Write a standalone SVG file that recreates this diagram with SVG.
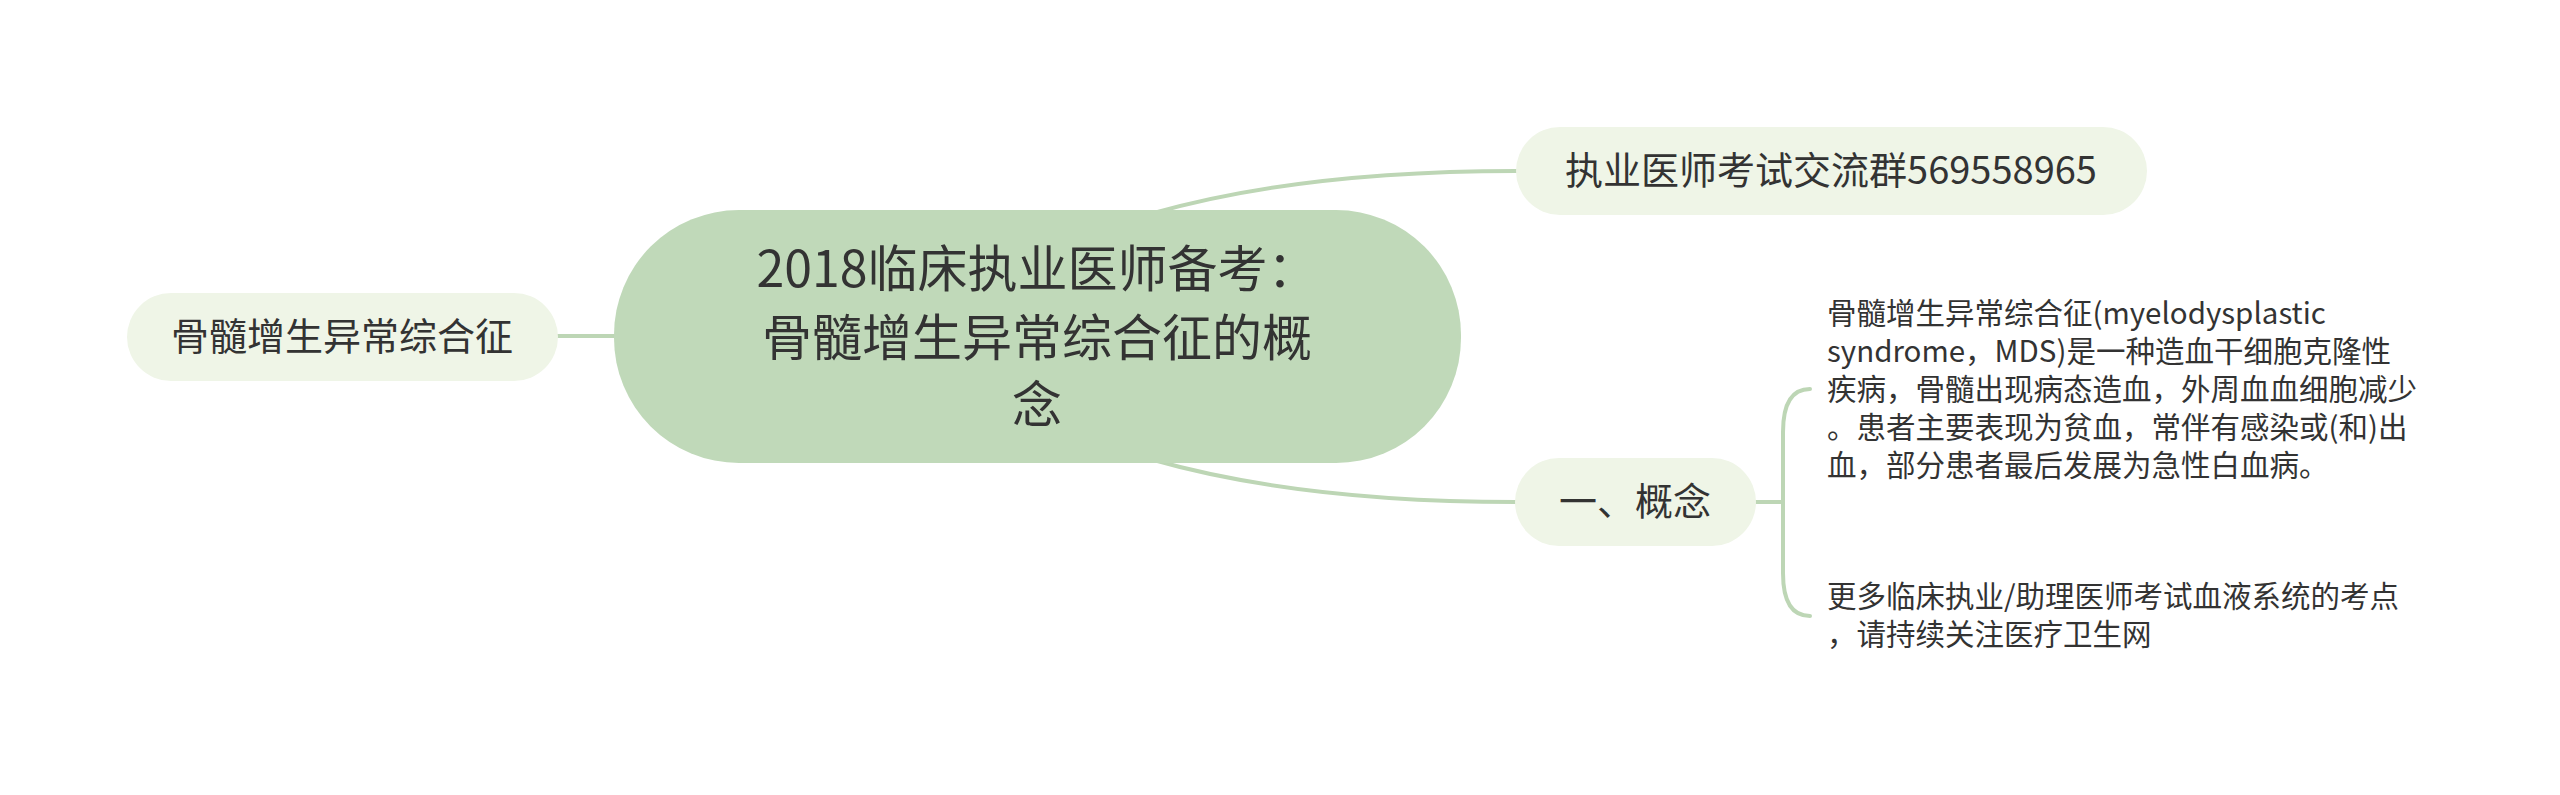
<svg xmlns="http://www.w3.org/2000/svg" width="2560" height="795" viewBox="0 0 2560 795">
<style>
.t{font-family:"Noto Sans CJK SC","Microsoft YaHei","Noto Sans",sans-serif;fill:#333333}
.c{stroke:#bdd6b5;stroke-width:4;fill:none;stroke-linecap:round}
.sub{fill:#eff5e7}
</style>
<rect width="2560" height="795" fill="#ffffff"/>
<g id="connectors">
<path class="c" d="M1150,214 Q1300,171 1516,171"/>
<path class="c" d="M1150,459 Q1300,502 1516,502"/>
<path class="c" d="M557,336 L616,336"/>
<path class="c" d="M1756,502 L1783,502"/>
<path class="c" d="M1810,389 Q1783,389 1783,432 L1783,573 Q1783,616 1810,616"/>
</g>
<g id="center">
<rect x="614" y="210" width="847" height="253" rx="125" ry="125" fill="#c0d9b9"/>
<text class="t" font-size="50" text-anchor="middle"><tspan x="1037" y="287">2018临床执业医师备考：</tspan><tspan x="1037" y="356">骨髓增生异常综合征的概</tspan><tspan x="1037" y="423">念</tspan></text>
</g>
<g id="node-group">
<rect class="sub" x="1516" y="127" width="631" height="88" rx="44"/>
<text class="t" font-size="38" text-anchor="middle" x="1831" y="184">执业医师考试交流群569558965</text>
</g>
<g id="node-left">
<rect class="sub" x="127" y="293" width="431" height="88" rx="44"/>
<text class="t" font-size="38" text-anchor="middle" x="342" y="350">骨髓增生异常综合征</text>
</g>
<g id="node-concept">
<rect class="sub" x="1515" y="458" width="241" height="88" rx="44"/>
<text class="t" font-size="38" text-anchor="middle" x="1635" y="515">一、概念</text>
</g>
<g id="note-definition">
<text class="t" font-size="29.5"><tspan x="1827" y="324">骨髓增生异常综合征(myelodysplastic</tspan><tspan x="1827" y="362">syndrome，MDS)是一种造血干细胞克隆性</tspan><tspan x="1827" y="400">疾病，骨髓出现病态造血，外周血血细胞减少</tspan><tspan x="1827" y="438">。患者主要表现为贫血，常伴有感染或(和)出</tspan><tspan x="1827" y="476">血，部分患者最后发展为急性白血病。</tspan></text>
</g>
<g id="note-more">
<text class="t" font-size="29.5"><tspan x="1827" y="607">更多临床执业/助理医师考试血液系统的考点</tspan><tspan x="1827" y="645">，请持续关注医疗卫生网</tspan></text>
</g>
</svg>
